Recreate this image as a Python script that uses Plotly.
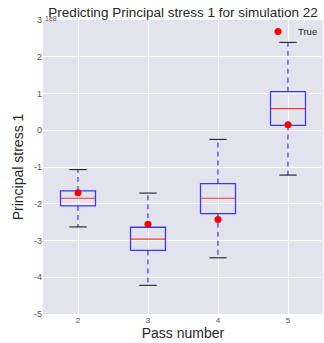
import plotly.graph_objects as go

# Data (values in units of 1e8)
pass_numbers = [2, 3, 4, 5]
whisker_low = [-2.63, -4.22, -3.47, -1.22]
q1 = [-2.06, -3.27, -2.27, 0.13]
median = [-1.85, -2.96, -1.85, 0.59]
q3 = [-1.65, -2.64, -1.45, 1.05]
whisker_high = [-1.07, -1.71, -0.25, 2.39]
true_vals = [-1.70, -2.56, -2.43, 0.15]
y_ticks = [-5, -4, -3, -2, -1, 0, 1, 2, 3]

HALF_BOX = 0.25
HALF_CAP = 0.125

fig = go.Figure()

for i, x in enumerate(pass_numbers):
    fig.add_trace(go.Scatter(
        x=[x - HALF_BOX, x + HALF_BOX, x + HALF_BOX, x - HALF_BOX, x - HALF_BOX],
        y=[q1[i], q1[i], q3[i], q3[i], q1[i]],
        mode="lines", line=dict(color="rgba(0,0,255,0.75)", width=1.3), showlegend=False, hoverinfo="skip"))
    fig.add_trace(go.Scatter(
        x=[x - HALF_BOX, x + HALF_BOX], y=[median[i], median[i]],
        mode="lines", line=dict(color="rgba(255,0,0,0.75)", width=1.2), showlegend=False, hoverinfo="skip"))
    fig.add_trace(go.Scatter(
        x=[x, x, None, x, x], y=[q3[i], whisker_high[i], None, q1[i], whisker_low[i]],
        mode="lines", line=dict(color="rgba(0,0,255,0.75)", width=1.3, dash="5px,4px"), showlegend=False, hoverinfo="skip"))
    fig.add_trace(go.Scatter(
        x=[x - HALF_CAP, x + HALF_CAP, None, x - HALF_CAP, x + HALF_CAP],
        y=[whisker_high[i], whisker_high[i], None, whisker_low[i], whisker_low[i]],
        mode="lines", line=dict(color="rgba(0,0,0,0.8)", width=1.2), showlegend=False, hoverinfo="skip"))

fig.add_trace(go.Scatter(
    x=pass_numbers, y=true_vals, mode="markers", name="True",
    marker=dict(color="red", size=7)))

fig.update_layout(
    template="none",
    width=324, height=343,
    margin=dict(l=43, r=1, t=20, b=29),
    paper_bgcolor="white", plot_bgcolor="#E3E3EE",
    font=dict(family="Liberation Sans, Arial, sans-serif", color="#262626"),
    title=dict(text="Predicting Principal stress 1 for simulation 22", x=0.565, xanchor="center",
               y=0.965, yanchor="middle", font=dict(size=13.5, color="#262626")),
    showlegend=True,
    legend=dict(x=1.0, y=1.01, xanchor="right", yanchor="top", bgcolor="rgba(0,0,0,0)",
                font=dict(size=9.5, color="#262626"), itemwidth=30, borderwidth=0),
    xaxis=dict(range=[1.5, 5.5], tickvals=pass_numbers, ticktext=[str(p) for p in pass_numbers],
               showgrid=True, gridcolor="white", gridwidth=1.2, zeroline=False, showline=False,
               tickfont=dict(size=8, color="#555555"), ticks="", ticklen=0,
               title=dict(text="Pass number", font=dict(size=14, color="#262626"), standoff=4)),
    yaxis=dict(range=[-5, 3], tickvals=y_ticks, ticktext=[str(t) for t in y_ticks],
               showgrid=True, gridcolor="white", gridwidth=1.2, zeroline=False, showline=False,
               tickfont=dict(size=9, color="#555555"), ticks="",
               title=dict(text="Principal stress 1", font=dict(size=14, color="#262626"), standoff=7)),
    annotations=[dict(text="1e8", xref="paper", yref="paper", x=0, y=1, xanchor="left", yanchor="bottom",
                      showarrow=False, font=dict(size=7, color="#555555"), yshift=-4)],
)

fig.write_html("out.html")
